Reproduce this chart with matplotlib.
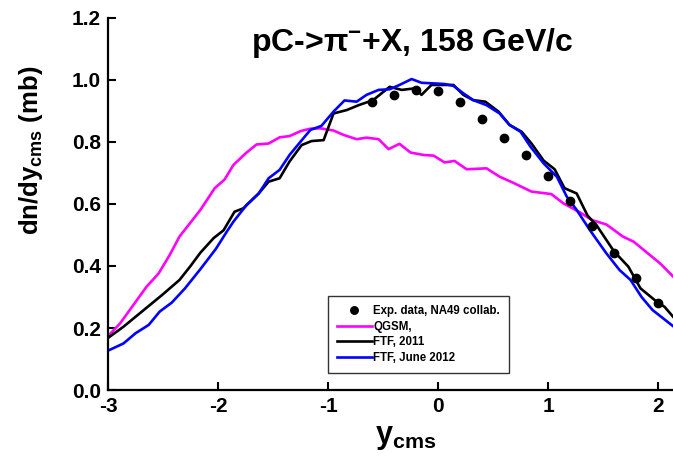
import numpy as np
import matplotlib
matplotlib.use("Agg")
import matplotlib.pyplot as plt

plt.rcParams['font.family'] = 'Liberation Sans'
plt.rcParams['font.weight'] = 'bold'
plt.rcParams['axes.labelweight'] = 'bold'
plt.rcParams['axes.unicode_minus'] = False
plt.rcParams['mathtext.fontset'] = 'custom'
plt.rcParams['mathtext.rm'] = 'Liberation Sans:bold'
plt.rcParams['mathtext.bf'] = 'Liberation Sans:bold'
plt.rcParams['mathtext.it'] = 'Liberation Sans:bold'
plt.rcParams['mathtext.default'] = 'bf'

# NA49 data points
exp_y = np.array([-0.6, -0.4, -0.2, 0.0, 0.2, 0.4, 0.6, 0.8, 1.0, 1.2, 1.4, 1.6, 1.8, 2.0])
exp_dn = np.array([0.929, 0.951, 0.968, 0.963, 0.929, 0.873, 0.814, 0.757, 0.690,
                   0.611, 0.529, 0.443, 0.360, 0.280])

# QGSM
qgsm_y = np.array([-3.00, -2.89, -2.77, -2.65, -2.54, -2.44, -2.35, -2.16, -2.03, -1.94,
                   -1.86, -1.75, -1.65, -1.54, -1.44, -1.35, -1.25, -1.16, -1.07, -0.95,
                   -0.86, -0.74, -0.65, -0.54, -0.45, -0.35, -0.25, -0.13, -0.04, 0.06,
                   0.15, 0.26, 0.44, 0.56, 0.68, 0.85, 1.03, 1.14, 1.29, 1.40,
                   1.53, 1.68, 1.78, 1.90, 2.02, 2.14])
qgsm_dn = np.array([0.174, 0.215, 0.274, 0.333, 0.376, 0.435, 0.495, 0.581, 0.651, 0.679,
                    0.726, 0.763, 0.792, 0.795, 0.815, 0.819, 0.835, 0.843, 0.844, 0.837,
                    0.823, 0.809, 0.814, 0.809, 0.777, 0.794, 0.766, 0.758, 0.756, 0.734,
                    0.739, 0.712, 0.715, 0.688, 0.669, 0.640, 0.632, 0.602, 0.573, 0.548,
                    0.534, 0.495, 0.478, 0.443, 0.408, 0.365])

# FTF 2011
ftf11_y = np.array([-3.00, -2.86, -2.74, -2.62, -2.51, -2.35, -2.25, -2.16, -2.04, -1.95,
                    -1.85, -1.77, -1.63, -1.54, -1.44, -1.35, -1.24, -1.15, -1.04, -0.95,
                    -0.83, -0.72, -0.59, -0.44, -0.33, -0.21, -0.15, -0.06, 0.05, 0.14,
                    0.23, 0.32, 0.43, 0.55, 0.65, 0.76, 0.85, 0.96, 1.06, 1.15,
                    1.26, 1.36, 1.44, 1.60, 1.73, 1.84, 1.97, 2.06, 2.14])
ftf11_dn = np.array([0.168, 0.204, 0.239, 0.274, 0.306, 0.355, 0.400, 0.443, 0.490, 0.515,
                     0.575, 0.586, 0.634, 0.672, 0.683, 0.737, 0.790, 0.803, 0.806, 0.892,
                     0.903, 0.919, 0.935, 0.978, 0.968, 0.973, 0.952, 0.984, 0.984, 0.984,
                     0.952, 0.935, 0.930, 0.898, 0.855, 0.833, 0.795, 0.740, 0.712, 0.651,
                     0.634, 0.562, 0.532, 0.447, 0.398, 0.328, 0.290, 0.268, 0.235])

# FTF June 2012
ftf12_y = np.array([-3.00, -2.86, -2.75, -2.63, -2.53, -2.42, -2.30, -2.16, -2.02, -1.92,
                    -1.86, -1.74, -1.63, -1.54, -1.44, -1.35, -1.25, -1.16, -1.06, -0.95,
                    -0.85, -0.74, -0.65, -0.54, -0.44, -0.35, -0.24, -0.15, -0.04, 0.06,
                    0.14, 0.23, 0.32, 0.44, 0.56, 0.65, 0.75, 0.84, 0.96, 1.08,
                    1.17, 1.26, 1.38, 1.53, 1.65, 1.75, 1.85, 1.95, 2.14])
ftf12_dn = np.array([0.127, 0.150, 0.183, 0.210, 0.253, 0.282, 0.328, 0.390, 0.455, 0.511,
                     0.543, 0.597, 0.634, 0.683, 0.710, 0.758, 0.801, 0.839, 0.852, 0.898,
                     0.934, 0.930, 0.952, 0.968, 0.970, 0.984, 1.003, 0.991, 0.989, 0.987,
                     0.981, 0.957, 0.935, 0.919, 0.892, 0.855, 0.833, 0.785, 0.731, 0.688,
                     0.624, 0.581, 0.516, 0.441, 0.387, 0.355, 0.300, 0.258, 0.205])

fig = plt.figure(figsize=(6.73, 4.61), dpi=100)
ax = fig.add_axes([0.1605, 0.154, 0.8395, 0.807])

ax.plot(exp_y, exp_dn, 'o', color='black', markersize=6, label='Exp. data, NA49 collab.', zorder=5)
ax.plot(qgsm_y, qgsm_dn, color='#ff00ff', lw=1.9, label='QGSM,')
ax.plot(ftf11_y, ftf11_dn, color='black', lw=1.9, label='FTF, 2011')
ax.plot(ftf12_y, ftf12_dn, color='#0000ff', lw=1.9, label='FTF, June 2012')

ax.set_xlim(-3, 2.136)
ax.set_ylim(0, 1.2)
ax.set_xticks([-3, -2, -1, 0, 1, 2])
ax.set_yticks([0.0, 0.2, 0.4, 0.6, 0.8, 1.0, 1.2])
ax.set_yticklabels(['0.0', '0.2', '0.4', '0.6', '0.8', '1.0', '1.2'])
ax.tick_params(direction='in', length=6, width=1.5, labelsize=15, pad=5)
ax.spines['top'].set_visible(False)
ax.spines['right'].set_visible(False)
ax.spines['left'].set_linewidth(1.6)
ax.spines['bottom'].set_linewidth(1.6)

ax.set_ylabel(r'dn/dy$_{\rm cms}$ (mb)', fontsize=18.5, fontweight='bold')
ax.yaxis.set_label_coords(-0.112, 0.645)
ax.set_xlabel(r'y$_{\rm cms}$', fontsize=22, fontweight='bold')
ax.xaxis.set_label_coords(0.526, -0.085)

ax.text(0.538, 0.933, r'pC->$\pi^{-}$+X, 158 GeV/c', transform=ax.transAxes,
        ha='center', va='center', fontsize=23, fontweight='bold')

leg = ax.legend(loc='lower left', bbox_to_anchor=(0.389, 0.046), borderaxespad=0,
                fontsize=8.3, frameon=True, fancybox=False, handlelength=3.0,
                handletextpad=0.15, labelspacing=0.3, borderpad=0.8, markerscale=0.9)
leg.get_frame().set_edgecolor('black')
leg.get_frame().set_linewidth(1.0)

fig.savefig('out.png', dpi=100)
